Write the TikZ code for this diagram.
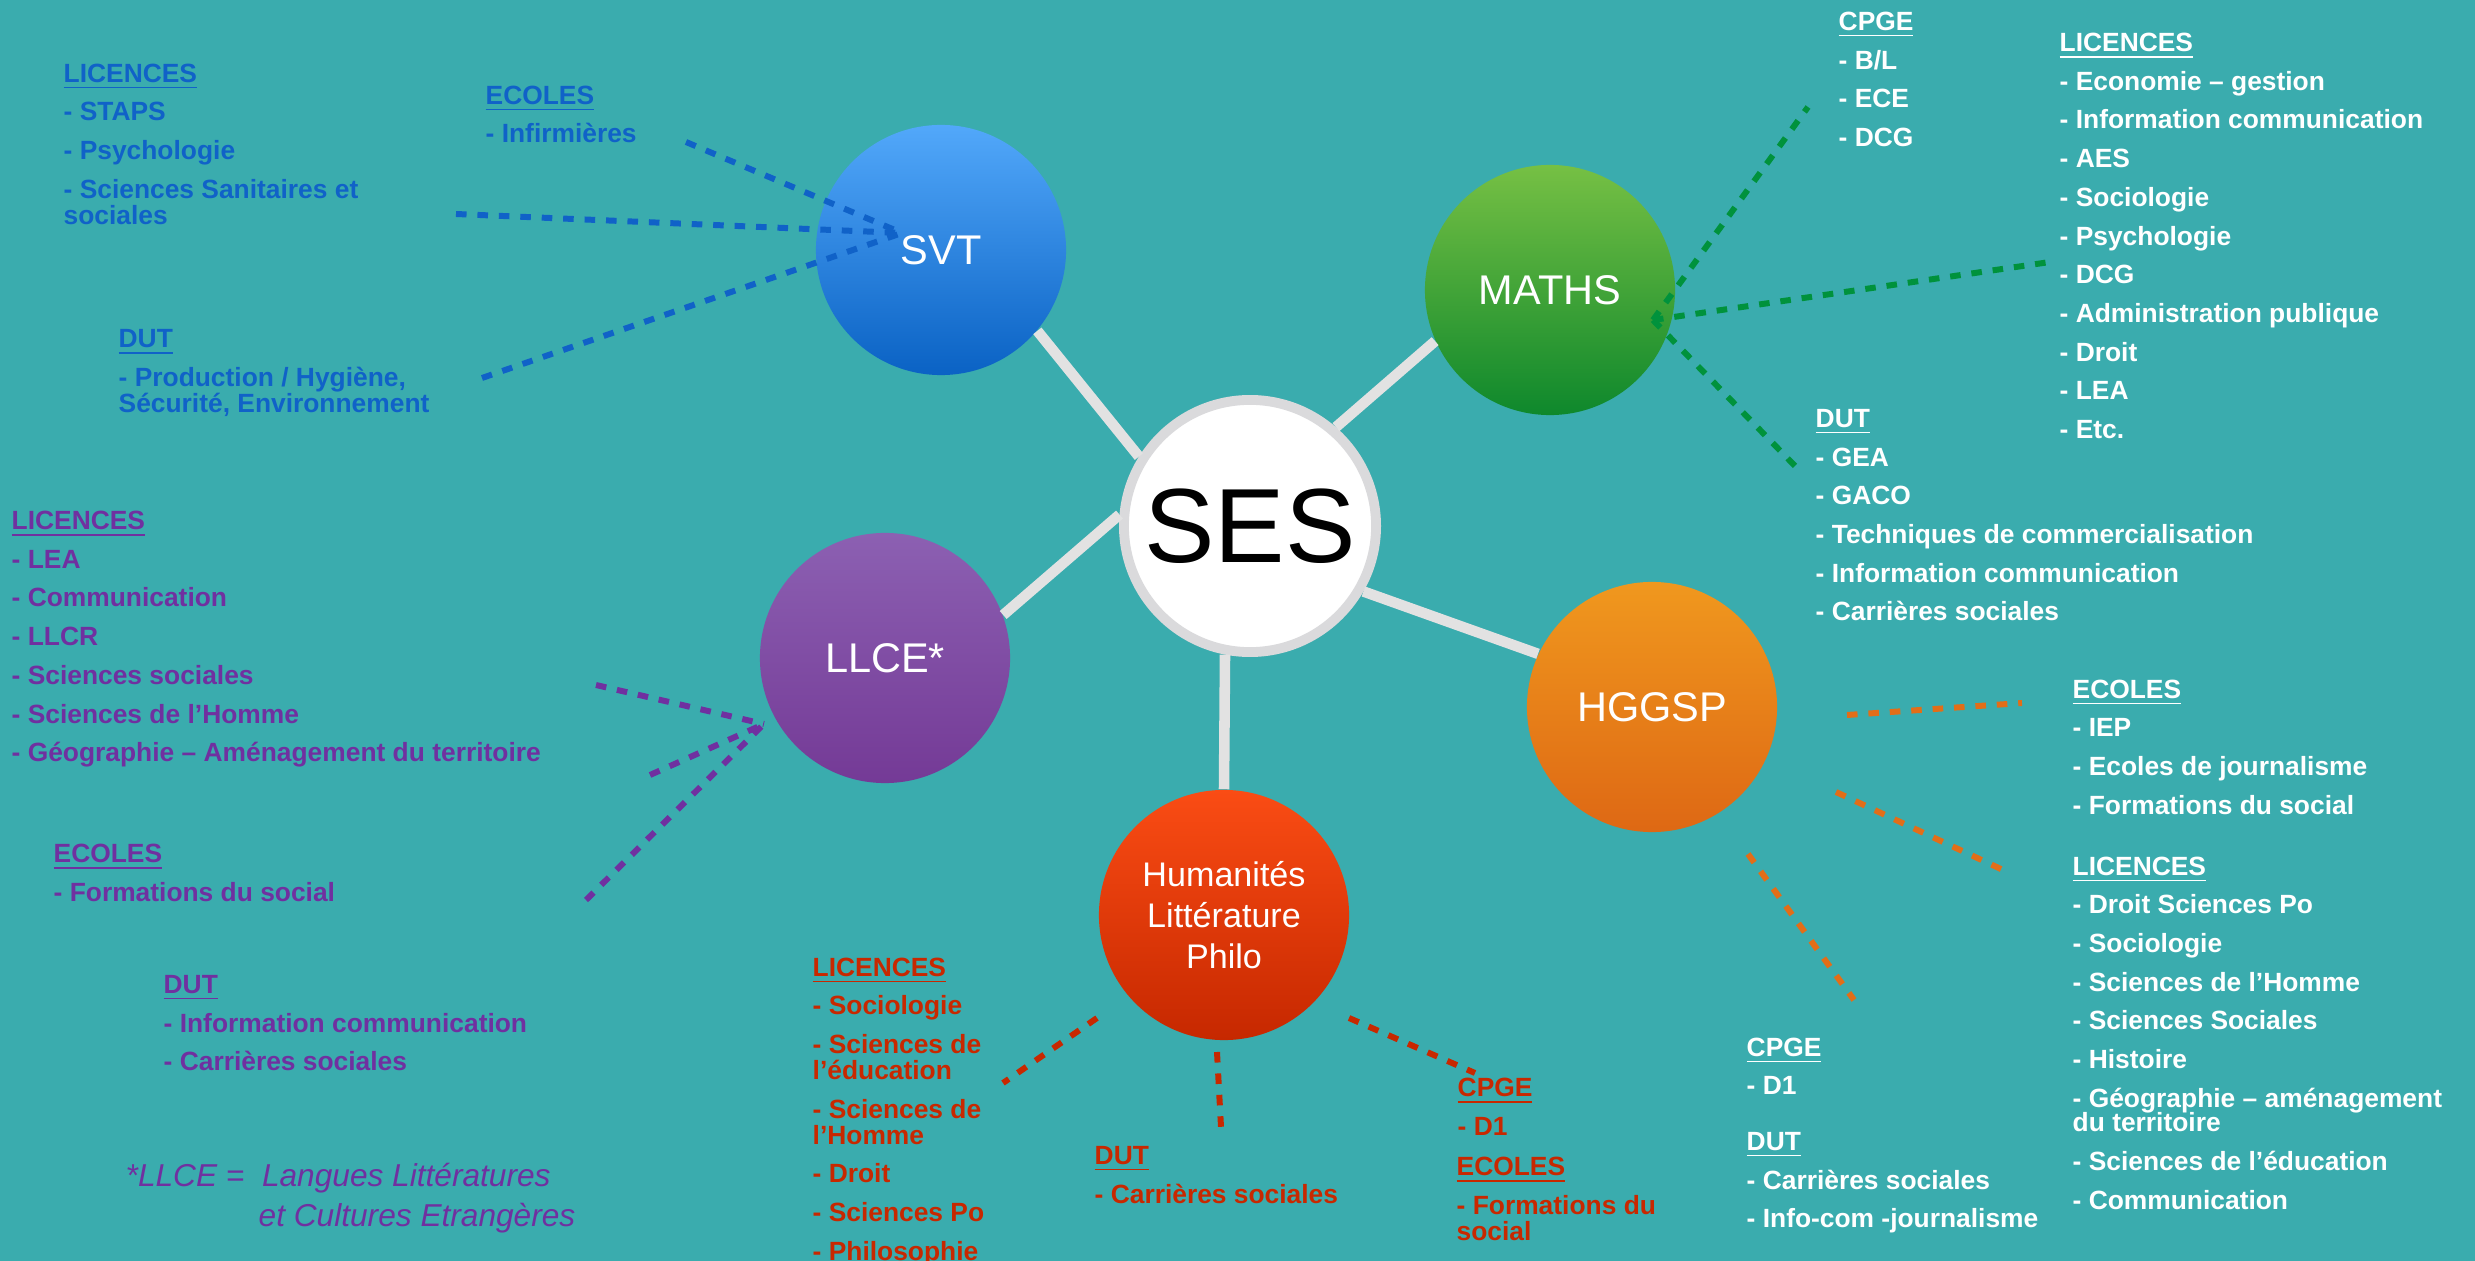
\documentclass[tikz,border=0pt]{standalone}
\usepackage{fontspec}
\setmainfont{Liberation Sans}
\definecolor{fond}{RGB}{58,172,174}
\definecolor{lien}{RGB}{226,226,226}
\definecolor{bordSES}{RGB}{218,218,220}
\definecolor{bleuSVT}{RGB}{16,98,200}
\definecolor{vertMATHS}{RGB}{0,146,60}
\definecolor{violetLLCE}{RGB}{112,48,160}
\definecolor{rougeHUM}{RGB}{200,40,0}
\definecolor{orangeHG}{RGB}{226,110,24}
\definecolor{svtHaut}{RGB}{82,168,250}
\definecolor{svtBas}{RGB}{10,98,196}
\definecolor{mathsHaut}{RGB}{118,192,68}
\definecolor{mathsBas}{RGB}{14,136,44}
\definecolor{llceHaut}{RGB}{140,96,178}
\definecolor{llceBas}{RGB}{116,58,150}
\definecolor{hgHaut}{RGB}{240,152,30}
\definecolor{hgBas}{RGB}{222,104,20}
\definecolor{humHaut}{RGB}{250,76,20}
\definecolor{humBas}{RGB}{198,40,0}

\begin{document}
\begin{tikzpicture}[x=0.01cm,y=-0.01cm,
  matiere/.style={circle,minimum size=2.5cm,inner sep=0pt,text=white,font=\fontsize{11.8}{14}\selectfont},
  liste/.style={anchor=north west,inner sep=0pt,align=left,font=\bfseries\fontsize{7.5}{11}\selectfont},
  lien/.style={draw=lien,line width=3pt},
  tiret/.style={line width=1.7pt,dash pattern=on 3pt off 3.1pt}]
\useasboundingbox (0,0) rectangle (2475,1261);
\fill [fond] (0,0) rectangle (2475,1261);

\node [circle,minimum size=2.52cm,inner sep=0pt,fill=white,draw=bordSES,line width=2.8pt,font=\fontsize{30}{30}\selectfont] (ses) at (1250,526) {SES};
\node [matiere,top color=svtHaut,bottom color=svtBas] (svt) at (941,250) {SVT};
\node [matiere,top color=mathsHaut,bottom color=mathsBas] (maths) at (1550,290) {MATHS};
\node [matiere,top color=llceHaut,bottom color=llceBas] (llce) at (885,658) {LLCE*};
\node [matiere,top color=hgHaut,bottom color=hgBas] (hg) at (1652,707) {HGGSP};
\node [matiere,top color=humHaut,bottom color=humBas,align=center,font=\fontsize{9.7}{11.6}\selectfont] (hum) at (1224,915) {Humanités\\Littérature\\Philo};

\draw [lien] (svt.-40) -- (ses.148);
\draw [lien] (maths.204) -- (ses.49);
\draw [lien] (llce.20) -- (ses.175);
\draw [lien] (hg.155) -- (ses.-30);
\draw [lien] (hum.north) -- (ses.-101);

\node [liste,text=bleuSVT] (svt-lic) at (63,63) {\underline{LICENCES}\\- STAPS\\- Psychologie\\- Sciences Sanitaires et\\[-3.6pt]sociales};
\node [liste,text=bleuSVT] (svt-eco) at (485,85) {\underline{ECOLES}\\- Infirmières};
\node [liste,text=bleuSVT] (svt-dut) at (118,329) {\underline{DUT}\\- Production / Hygiène,\\[-3.6pt]Sécurité, Environnement};
\coordinate (svt-hub) at (902,233);
\coordinate (svt-a) at (686,142);
\coordinate (svt-b) at (456,214);
\coordinate (svt-c) at (482,378);
\draw [tiret,bleuSVT] (svt-a) -- (svt-hub);
\draw [tiret,bleuSVT] (svt-b) -- (svt-hub);
\draw [tiret,bleuSVT] (svt-c) -- (svt-hub);

\node [liste,text=white] (ma-cpge) at (1838,11.5) {\underline{CPGE}\\- B/L\\- ECE\\- DCG};
\node [liste,text=white] (ma-lic) at (2059,32.5) {\underline{LICENCES}\\- Economie – gestion\\- Information communication\\- AES\\- Sociologie\\- Psychologie\\- DCG\\- Administration publique\\- Droit\\- LEA\\- Etc.};
\node [liste,text=white] (ma-dut) at (1815,408.5) {\underline{DUT}\\- GEA\\- GACO\\- Techniques de commercialisation\\- Information communication\\- Carrières sociales};
\coordinate (ma-hub) at (1653,320);
\coordinate (ma-a) at (1808,107);
\coordinate (ma-b) at (2050,262);
\coordinate (ma-c) at (1796,467);
\draw [tiret,vertMATHS] (ma-hub) -- (ma-a);
\draw [tiret,vertMATHS] (ma-hub) -- (ma-b);
\draw [tiret,vertMATHS] (ma-hub) -- (ma-c);

\node [liste,text=violetLLCE] (ll-lic) at (11,510.5) {\underline{LICENCES}\\- LEA\\- Communication\\- LLCR\\- Sciences sociales\\- Sciences de l’Homme\\- Géographie – Aménagement du territoire};
\node [liste,text=violetLLCE] (ll-eco) at (53,843.5) {\underline{ECOLES}\\- Formations du social};
\node [liste,text=violetLLCE] (ll-dut) at (163,974.5) {\underline{DUT}\\- Information communication\\- Carrières sociales};
\node [anchor=north west,inner sep=0pt,text=violetLLCE,font=\itshape\fontsize{9}{11.4}\selectfont] (note) at (125,1162) {*LLCE =\ \ Langues Littératures};
\node [anchor=north west,inner sep=0pt,text=violetLLCE,font=\itshape\fontsize{9}{11.4}\selectfont] (note2) at (258,1202) {et Cultures Etrangères};
\coordinate (ll-hub) at (764,724);
\coordinate (ll-a) at (596,685);
\coordinate (ll-b) at (650,775);
\coordinate (ll-c) at (586,900);
\draw [tiret,violetLLCE] (ll-a) -- (ll-hub);
\draw [tiret,violetLLCE] (ll-b) -- (ll-hub);
\draw [tiret,violetLLCE] (ll-c) -- (ll-hub);

\node [liste,text=rougeHUM] (hu-lic) at (812,957) {\underline{LICENCES}\\- Sociologie\\- Sciences de\\[-3.6pt]l’éducation\\- Sciences de\\[-3.6pt]l’Homme\\- Droit\\- Sciences Po\\- Philosophie};
\node [liste,text=rougeHUM] (hu-dut) at (1094,1145.5) {\underline{DUT}\\- Carrières sociales};
\node [liste,text=rougeHUM] (hu-cpge) at (1457,1077.5) {\underline{CPGE}\\- D1};
\node [liste,text=rougeHUM] (hu-eco) at (1456,1156.5) {\underline{ECOLES}\\- Formations du\\[-3.6pt]social};
\coordinate (hu-a1) at (1097,1018);
\coordinate (hu-a2) at (1003,1083);
\coordinate (hu-b1) at (1217,1052);
\coordinate (hu-b2) at (1221,1127);
\coordinate (hu-c1) at (1349,1018);
\coordinate (hu-c2) at (1475,1073);
\draw [tiret,rougeHUM] (hu-a1) -- (hu-a2);
\draw [tiret,rougeHUM] (hu-b1) -- (hu-b2);
\draw [tiret,rougeHUM] (hu-c1) -- (hu-c2);

\node [liste,text=white] (hg-eco) at (2072,679) {\underline{ECOLES}\\- IEP\\- Ecoles de journalisme\\- Formations du social};
\node [liste,text=white] (hg-lic) at (2072,856) {\underline{LICENCES}\\- Droit Sciences Po\\- Sociologie\\- Sciences de l’Homme\\- Sciences Sociales\\- Histoire\\- Géographie – aménagement\\[-4pt]du territoire\\- Sciences de l’éducation\\- Communication};
\node [liste,text=white] (hg-cpge) at (1746,1037) {\underline{CPGE}\\- D1};
\node [liste,text=white] (hg-dut) at (1746,1131.5) {\underline{DUT}\\- Carrières sociales\\- Info-com -journalisme};
\coordinate (hg-a1) at (1847,715);
\coordinate (hg-a2) at (2022,703);
\coordinate (hg-b1) at (1836,792);
\coordinate (hg-b2) at (2003,870);
\coordinate (hg-c1) at (1748,854);
\coordinate (hg-c2) at (1854,1000);
\draw [tiret,orangeHG] (hg-a1) -- (hg-a2);
\draw [tiret,orangeHG] (hg-b1) -- (hg-b2);
\draw [tiret,orangeHG] (hg-c1) -- (hg-c2);
\end{tikzpicture}
\end{document}
